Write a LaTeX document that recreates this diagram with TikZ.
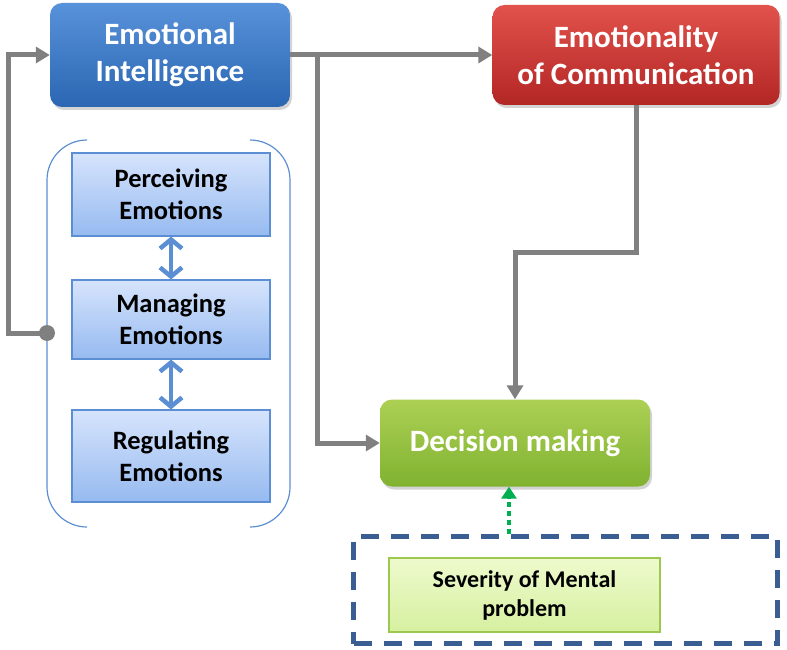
\documentclass[tikz,border=0pt]{standalone}
\usepackage{fontspec}
\setmainfont{Carlito}
\usetikzlibrary{positioning}
\usetikzlibrary{shadows}
\usetikzlibrary{arrows.meta}

\definecolor{lgrey}{RGB}{128,128,128}
\definecolor{eitop}{RGB}{88,146,218}
\definecolor{eibot}{RGB}{42,102,178}
\definecolor{ectop}{RGB}{226,82,76}
\definecolor{ecbot}{RGB}{178,38,36}
\definecolor{dmtop}{RGB}{172,208,84}
\definecolor{dmbot}{RGB}{128,178,48}
\definecolor{subtop}{RGB}{214,228,252}
\definecolor{subbot}{RGB}{150,186,240}
\definecolor{subline}{RGB}{92,142,212}
\definecolor{sevtop}{RGB}{238,250,205}
\definecolor{sevbot}{RGB}{214,240,160}
\definecolor{sevline}{RGB}{156,200,80}
\definecolor{grpline}{RGB}{58,94,146}
\definecolor{dotgreen}{RGB}{0,176,80}

\begin{document}
\begin{tikzpicture}[x=1pt, y=-1pt,
        mainbox/.style = {rounded corners=12pt, align=center, inner sep=0pt,
            text=white, font=\fontsize{31}{37}\selectfont\bfseries,
            drop shadow={shadow xshift=2pt, shadow yshift=-3pt, opacity=.35}},
        subbox/.style = {draw=subline, line width=1.2pt, top color=subtop,
            bottom color=subbot, align=center, inner sep=0pt,
            minimum width=198pt, font=\fontsize{26.5}{32}\selectfont\bfseries},
        link/.style = {draw=lgrey, line width=5pt,
            -{Triangle[length=14pt,width=16pt]}},
        twoway/.style = {draw=subline, line width=4.5pt,
            {Straight Barb[length=9pt,width=22pt]}-{Straight Barb[length=9pt,width=22pt]}}]
    \useasboundingbox (0,0) rectangle (787,650);
    % main boxes
    \node[mainbox, top color=eitop, bottom color=eibot, minimum width=240pt,
        minimum height=104pt] (ei) at (170,55) {Emotional\\Intelligence};
    \node[mainbox, top color=ectop, bottom color=ecbot, minimum width=287pt,
        minimum height=100pt] (ec) at (636,55) {Emotionality\\of Communication};
    \node[mainbox, top color=dmtop, bottom color=dmbot, minimum width=270pt,
        minimum height=87pt, font=\fontsize{31}{37}\selectfont\bfseries]
        (dm) at (515,443) {Decision making};
    % EI components
    \node[subbox, minimum height=83pt] (pe) at (171,194.5) {Perceiving\\Emotions};
    \node[subbox, minimum height=79pt] (me) at (171,319.5) {Managing\\Emotions};
    \node[subbox, minimum height=92pt] (re) at (171,456) {Regulating\\Emotions};
    \draw[twoway] (pe) -- (me);
    \draw[twoway] (me) -- (re);
    \draw[subline, line width=1.2pt, rounded corners=40pt]
        (87,140) -- (47,140) -- (47,527) -- (87,527);
    \draw[subline, line width=1.2pt, rounded corners=40pt]
        (250,140) -- (290,140) -- (290,527) -- (250,527);
    % severity group
    \node[draw=grpline, line width=5pt, dash pattern=on 18pt off 12pt,
        minimum width=424pt, minimum height=107pt, inner sep=0pt]
        (grp) at (565.5,590) {};
    \node[draw=sevline, line width=1.2pt, top color=sevtop, bottom color=sevbot,
        minimum width=271pt, minimum height=74pt, align=center, inner sep=0pt,
        font=\fontsize{24}{29}\selectfont\bfseries]
        (sev) at (524.5,595) {Severity of Mental\\problem};
    % connectors
    \fill[lgrey] (47,333) circle (8pt) coordinate (dot);
    \draw[link] (dot) -- ++(-39,0) |- (ei.west);
    \draw[link] (ei.east) -- (ec.west);
    \coordinate (br) at (317,55);
    \draw[link] (br) |- (dm.west);
    \draw[link] (ec.south) -- ++(0,147) -| (dm.north);
    \draw[draw=dotgreen, line width=4pt, dash pattern=on 5pt off 4pt,
        -{Triangle[length=12pt,width=15pt]}]
        ([xshift=-6pt]dm.south |- grp.north) -- ([xshift=-6pt]dm.south);
\end{tikzpicture}
\end{document}
